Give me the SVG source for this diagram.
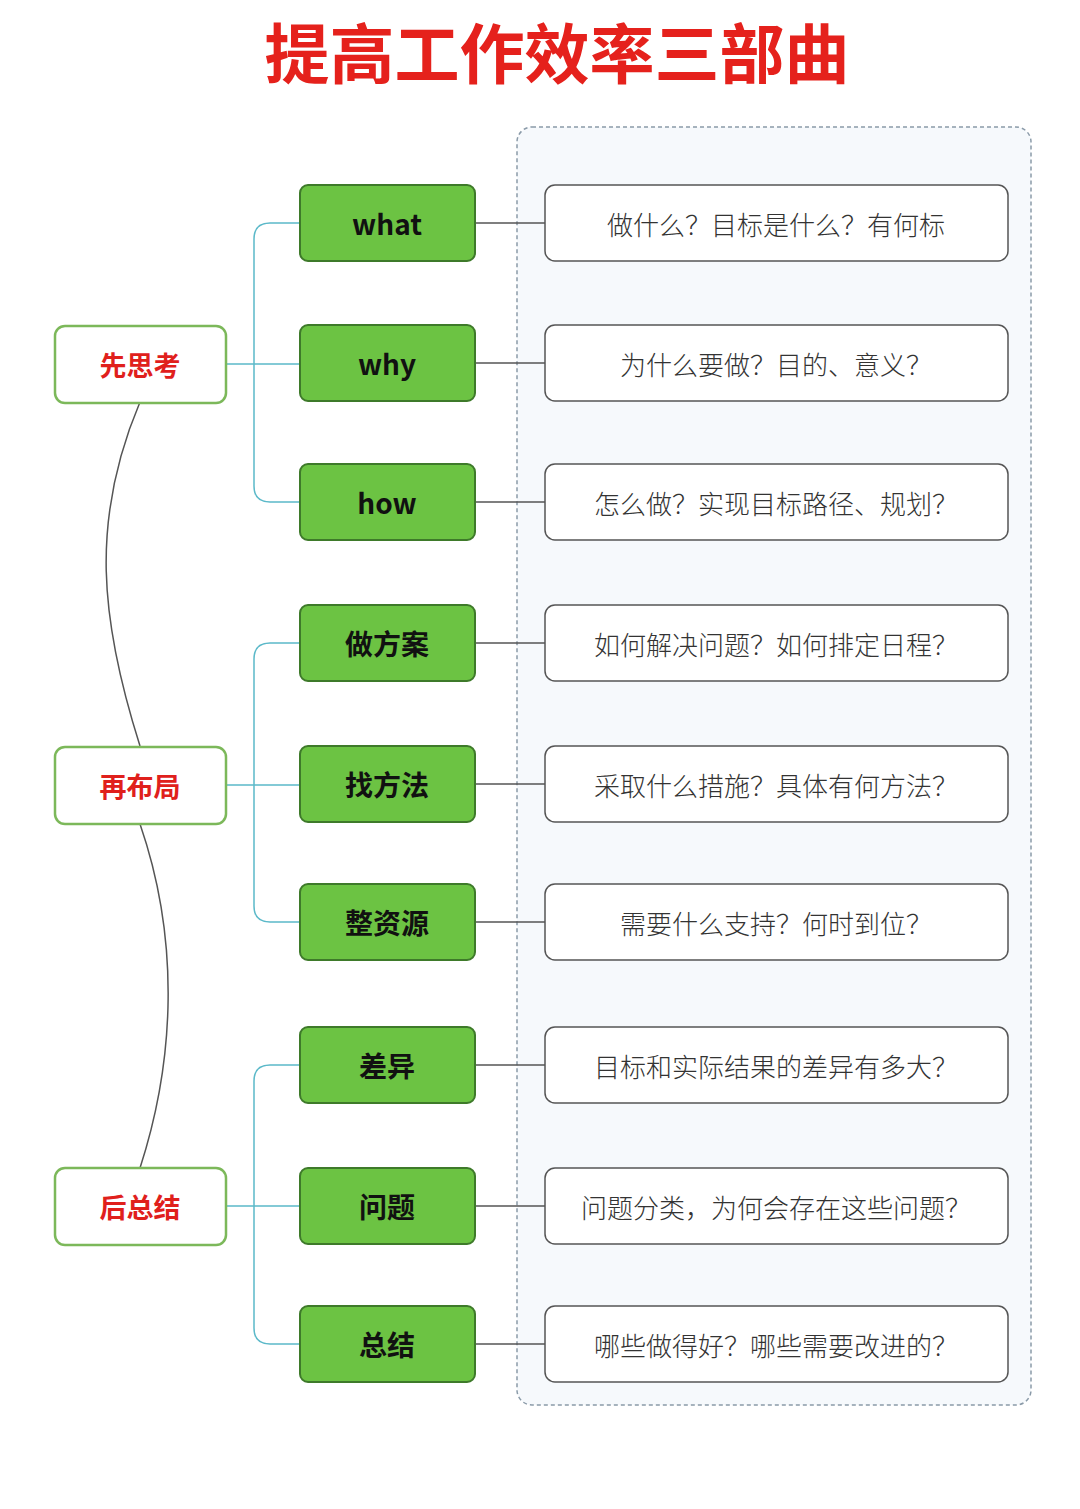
<svg xmlns="http://www.w3.org/2000/svg" width="1080" height="1509" viewBox="0 0 1080 1509">
<style>
.t{font-family:"Noto Sans CJK SC","Liberation Sans",sans-serif;text-anchor:middle;dominant-baseline:central}
.l rect{fill:#fff;stroke:#7cb85a;stroke-width:2.5}
.l text{fill:#e0201c;font-size:27px;font-weight:bold}
.g rect{fill:#6cc343;stroke:#3e7a2a;stroke-width:2}
.g text{fill:#111;font-size:28px;font-weight:bold}
.r rect{fill:#fff;stroke:#555;stroke-width:1.5}
.r text{fill:#333;font-size:26px;font-weight:300}
.tc{fill:none;stroke:#5bb9c9;stroke-width:1.5}
.gc{fill:none;stroke:#555;stroke-width:1.5}
</style>
<rect width="1080" height="1509" fill="#fff"/>
<text class="t" x="557" y="50" font-size="65" font-weight="bold" fill="#e5211c">提高工作效率三部曲</text>
<rect x="517" y="127" width="514" height="1278" rx="15" fill="#f6f9fc" stroke="#8a9aa8" stroke-width="1.5" stroke-dasharray="4 3"/>
<g id="connectors">
<path class="gc" d="M140 402 C90 520 100 620 140 746 M140 824 C180 940 175 1060 140 1168" stroke="#333"/>
<path class="tc" d="M226 364 H300 M270 223 Q254 223 254 239 V486 Q254 502 270 502 H300 M270 223 H300"/>
<path class="tc" d="M226 785 H300 M270 643 Q254 643 254 659 V906 Q254 922 270 922 H300 M270 643 H300"/>
<path class="tc" d="M226 1206 H300 M270 1065 Q254 1065 254 1081 V1328 Q254 1344 270 1344 H300 M270 1065 H300"/>
<path class="gc" d="M475 223H545M475 363H545M475 502H545M475 643H545M475 784H545M475 922H545M475 1065H545M475 1206H545M475 1344H545"/>
</g>
<g id="n1" class="l"><rect x="55" y="326" width="171" height="77" rx="10"/><text class="t" x="140" y="364">先思考</text></g>
<g id="n2" class="l"><rect x="55" y="747" width="171" height="77" rx="10"/><text class="t" x="140" y="785">再布局</text></g>
<g id="n3" class="l"><rect x="55" y="1168" width="171" height="77" rx="10"/><text class="t" x="140" y="1206">后总结</text></g>
<g id="g1" class="g"><rect x="300" y="185" width="175" height="76" rx="8"/><text class="t" x="387" y="223">what</text></g>
<g id="g2" class="g"><rect x="300" y="325" width="175" height="76" rx="8"/><text class="t" x="387" y="363">why</text></g>
<g id="g3" class="g"><rect x="300" y="464" width="175" height="76" rx="8"/><text class="t" x="387" y="502">how</text></g>
<g id="g4" class="g"><rect x="300" y="605" width="175" height="76" rx="8"/><text class="t" x="387" y="643">做方案</text></g>
<g id="g5" class="g"><rect x="300" y="746" width="175" height="76" rx="8"/><text class="t" x="387" y="784">找方法</text></g>
<g id="g6" class="g"><rect x="300" y="884" width="175" height="76" rx="8"/><text class="t" x="387" y="922">整资源</text></g>
<g id="g7" class="g"><rect x="300" y="1027" width="175" height="76" rx="8"/><text class="t" x="387" y="1065">差异</text></g>
<g id="g8" class="g"><rect x="300" y="1168" width="175" height="76" rx="8"/><text class="t" x="387" y="1206">问题</text></g>
<g id="g9" class="g"><rect x="300" y="1306" width="175" height="76" rx="8"/><text class="t" x="387" y="1344">总结</text></g>
<g id="r1" class="r"><rect x="545" y="185" width="463" height="76" rx="10"/><text class="t" x="776" y="223">做什么？目标是什么？有何标</text></g>
<g id="r2" class="r"><rect x="545" y="325" width="463" height="76" rx="10"/><text class="t" x="776" y="363">为什么要做？目的、意义？</text></g>
<g id="r3" class="r"><rect x="545" y="464" width="463" height="76" rx="10"/><text class="t" x="776" y="502">怎么做？实现目标路径、规划？</text></g>
<g id="r4" class="r"><rect x="545" y="605" width="463" height="76" rx="10"/><text class="t" x="776" y="643">如何解决问题？如何排定日程？</text></g>
<g id="r5" class="r"><rect x="545" y="746" width="463" height="76" rx="10"/><text class="t" x="776" y="784">采取什么措施？具体有何方法？</text></g>
<g id="r6" class="r"><rect x="545" y="884" width="463" height="76" rx="10"/><text class="t" x="776" y="922">需要什么支持？何时到位？</text></g>
<g id="r7" class="r"><rect x="545" y="1027" width="463" height="76" rx="10"/><text class="t" x="776" y="1065">目标和实际结果的差异有多大？</text></g>
<g id="r8" class="r"><rect x="545" y="1168" width="463" height="76" rx="10"/><text class="t" x="776" y="1206">问题分类，为何会存在这些问题？</text></g>
<g id="r9" class="r"><rect x="545" y="1306" width="463" height="76" rx="10"/><text class="t" x="776" y="1344">哪些做得好？哪些需要改进的？</text></g>
</svg>
